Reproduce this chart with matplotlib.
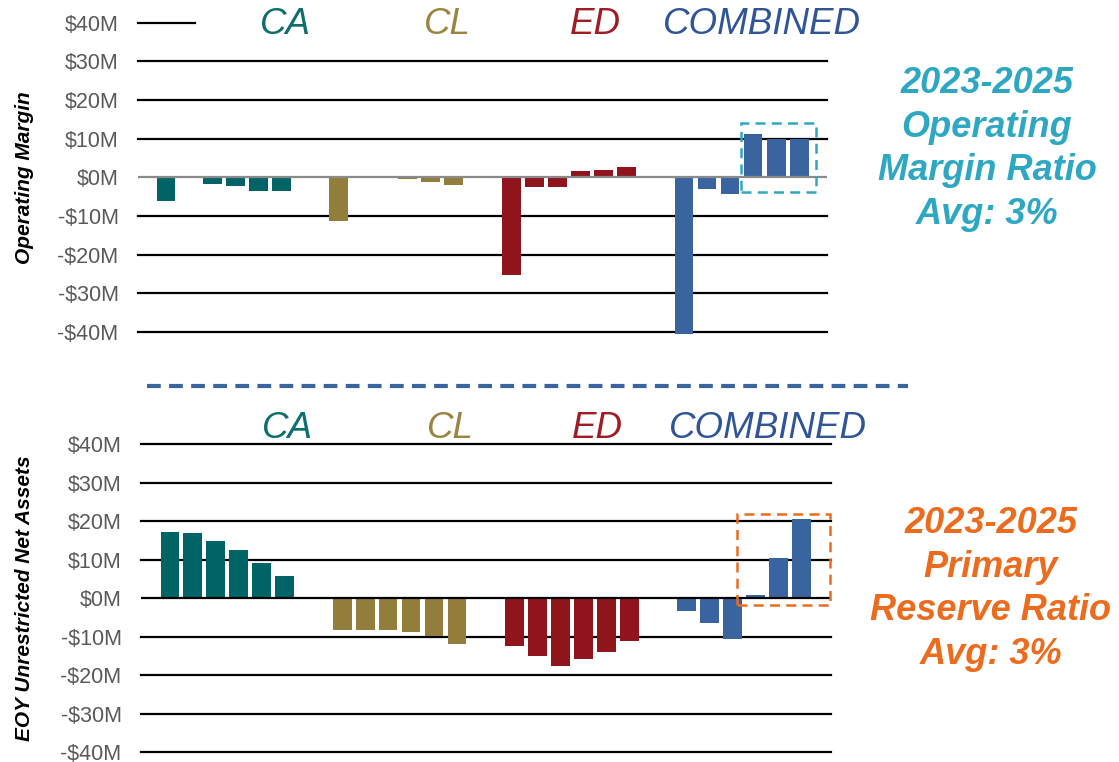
import matplotlib.pyplot as plt

# groups and their colours
grupos = ['CA', 'CL', 'ED', 'COMBINED']
colores = ['#006466', '#937D3B', '#8F141C', '#3A64A0']
colores_texto = ['#0E6D6D', '#9C8440', '#A01C24', '#2F5597']

# operating margin, $M, six years per group
margen_ca = [-6.0, -0.1, -1.8, -2.3, -3.4, -3.6]
margen_cl = [-11.2, -0.1, -0.1, -0.4, -1.3, -2.1]
margen_ed = [-25.2, -2.6, -2.6, 1.6, 1.8, 2.6]
margen_comb = [-40.5, -2.9, -4.2, 11.2, 9.9, 9.9]

# end of year unrestricted net assets, $M
activos_ca = [17.2, 17.0, 14.9, 12.6, 9.2, 5.6]
activos_cl = [-8.4, -8.4, -8.4, -8.9, -9.9, -12.0]
activos_ed = [-12.4, -15.0, -17.6, -15.9, -14.1, -11.1]
activos_comb = [-3.4, -6.5, -10.6, 0.7, 10.5, 20.6]

ticks = [40, 30, 20, 10, 0, -10, -20, -30, -40]
etiquetas_ticks = ['$40M', '$30M', '$20M', '$10M', '$0M',
                   '-$10M', '-$20M', '-$30M', '-$40M']

PASO_GRUPO = 7.5
plt.rcParams['font.family'] = ['Liberation Sans', 'DejaVu Sans']


def dibujar_barras(ax, series, xlim, zero_color, top_line_end=None):
    for g, valores in enumerate(series):
        xs = [g * PASO_GRUPO + i for i in range(len(valores))]
        ax.bar(xs, valores, width=0.82, color=colores[g], zorder=3, clip_on=False)
    ax.set_xlim(*xlim)
    ax.set_ylim(-40, 40)
    for t in ticks:
        if t == 0:
            ax.axhline(0, color=zero_color, lw=1.6, zorder=4)
        elif t == 40 and top_line_end is not None:
            ax.plot([xlim[0], top_line_end], [40, 40], color='black', lw=1.6,
                    zorder=1, clip_on=False)
        else:
            ax.axhline(t, color='black', lw=1.6, zorder=1, clip_on=False)
    ax.set_yticks(ticks)
    ax.set_yticklabels(etiquetas_ticks, fontsize=15.5, color='#595959')
    ax.tick_params(axis='y', length=0, pad=14)
    ax.set_xticks([])
    for s in ax.spines.values():
        s.set_visible(False)


fig = plt.figure(figsize=(11.19, 7.62), dpi=100)

ax1 = fig.add_axes([0.1233, 0.5643, 0.6157, 0.4059])
dibujar_barras(ax1, [margen_ca, margen_cl, margen_ed, margen_comb],
               (-1.22, 28.71), '#8a8a8a', top_line_end=1.26)
ax1.set_ylabel('Operating Margin', fontsize=15, fontweight='bold',
               fontstyle='italic')
ax1.yaxis.set_label_coords(-0.151, 0.5)

ax2 = fig.add_axes([0.126, 0.0131, 0.6166, 0.4042])
dibujar_barras(ax2, [activos_ca, activos_cl, activos_ed, activos_comb],
               (-1.26, 28.79), 'black')
ax2.set_ylabel('EOY Unrestricted Net Assets', fontsize=15, fontweight='bold',
               fontstyle='italic')
ax2.yaxis.set_label_coords(-0.155, 0.5)

# highlight boxes around 2023-2025 combined bars
ax1.add_patch(plt.Rectangle((24.98, -3.9), 3.26, 17.9, fill=False,
                            edgecolor='#2EA8C2', lw=1.8, ls=(0, (4, 2.5)),
                            zorder=5, clip_on=False))
ax2.add_patch(plt.Rectangle((24.7, -1.8), 4.05, 23.6, fill=False,
                            edgecolor='#EB6C1F', lw=1.8, ls=(0, (4, 2.5)),
                            zorder=5, clip_on=False))

# group names
W, H = 1119, 762
for nombre, color, x1, x2 in zip(grupos, colores_texto,
                                 [285, 447, 595, 762], [287, 450, 597, 768]):
    fig.text(x1 / W, 1 - 25 / H, nombre, color=color, fontsize=26.5,
             fontstyle='italic', ha='center', va='center')
    fig.text(x2 / W, 1 - 429 / H, nombre, color=color, fontsize=26.5,
             fontstyle='italic', ha='center', va='center', zorder=10)

# separator between the two panels
fig.add_artist(plt.Line2D([147 / W, 908 / W], [1 - 386 / H, 1 - 386 / H],
                          color='#3A64A0', lw=3, ls=(0, (3.3, 2))))

fig.text(987 / W, 1 - 149 / H, '2023-2025\nOperating\nMargin Ratio\nAvg: 3%',
         color='#2EA8C2', fontsize=26, fontweight='bold', fontstyle='italic',
         ha='center', va='center', linespacing=1.32)
fig.text(991 / W, 1 - 589 / H, '2023-2025\nPrimary\nReserve Ratio\nAvg: 3%',
         color='#EB6C1F', fontsize=26, fontweight='bold', fontstyle='italic',
         ha='center', va='center', linespacing=1.32)

fig.savefig('out.png', dpi=100)
